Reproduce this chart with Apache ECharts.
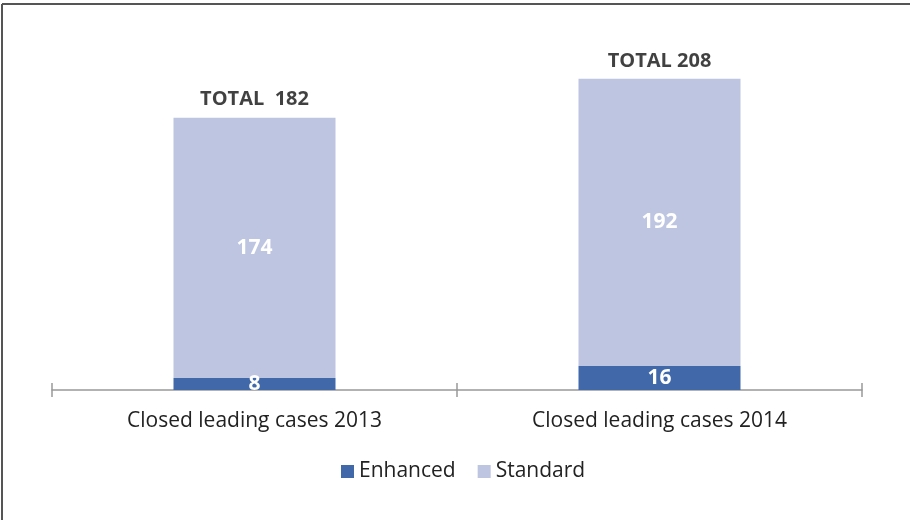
<!DOCTYPE html>
<html>
<head>
<meta charset="utf-8">
<script src="https://cdn.jsdelivr.net/npm/echarts@6/dist/echarts.min.js"></script>
<style>html,body{margin:0;padding:0;background:#fff}#c{width:910px;height:520px}</style>
</head>
<body>
<div id="c"></div>
<script>
const categories = ['Closed leading cases 2013', 'Closed leading cases 2014'];
const enhanced = [8, 16];
const standard = [174, 192];
const totals = [182, 208];
const totalLabels = ['TOTAL  182', 'TOTAL 208'];

const chart = echarts.init(document.getElementById('c'), null, {renderer: 'canvas'});
const font = '"Open Sans", "Noto Sans", sans-serif';
chart.setOption({
  animation: false,
  textStyle: {fontFamily: font},
  graphic: [
    {type: 'line', shape: {x1: 2, y1: 4, x2: 910, y2: 4}, style: {stroke: '#555', lineWidth: 2}},
    {type: 'line', shape: {x1: 2, y1: 4, x2: 2, y2: 520}, style: {stroke: '#555', lineWidth: 2}}
  ],
  grid: {left: 52, right: 48, top: 16, bottom: 130},
  legend: {
    data: ['Enhanced', 'Standard'],
    top: 456, left: 336,
    itemWidth: 13, itemHeight: 13, itemGap: 22, itemTextGap: 6,
    icon: 'rect',
    textStyle: {fontFamily: font, fontSize: 21, color: '#222'}
  },
  xAxis: [{
    type: 'category', data: categories,
    axisLine: {lineStyle: {color: '#999', width: 1.5}},
    axisTick: {show: true, length: 7, lineStyle: {color: '#999', width: 1.5}},
    axisLabel: {fontFamily: font, fontSize: 21, color: '#222', margin: 21}
  }, {
    type: 'category', data: categories, position: 'bottom', gridIndex: 0,
    axisLine: {show: false},
    axisTick: {show: true, inside: true, length: 7, lineStyle: {color: '#999', width: 1.5}},
    axisLabel: {show: false}
  }],
  yAxis: {type: 'value', min: 0, max: 250, show: false, splitLine: {show: false}},
  series: [
    {
      name: 'Enhanced', type: 'bar', stack: 's', data: enhanced, barWidth: 162,
      itemStyle: {color: '#4169A9'},
      label: {show: true, position: 'inside', color: '#fff', fontWeight: 'bold', fontSize: 21, fontFamily: font}
    },
    {
      name: 'Standard', type: 'bar', stack: 's', data: standard, barWidth: 162,
      itemStyle: {color: '#BDC5E1'},
      label: {show: true, position: 'inside', color: '#fff', fontWeight: 'bold', fontSize: 21, fontFamily: font}
    },
    {
      name: 'Total', type: 'scatter', data: totals, symbolSize: 0, silent: true,
      label: {show: true, position: 'top', distance: 8, color: '#111', fontWeight: 'bold', fontSize: 20, fontFamily: font,
        formatter: p => totalLabels[p.dataIndex]}
    }
  ]
});
</script>
</body>
</html>
